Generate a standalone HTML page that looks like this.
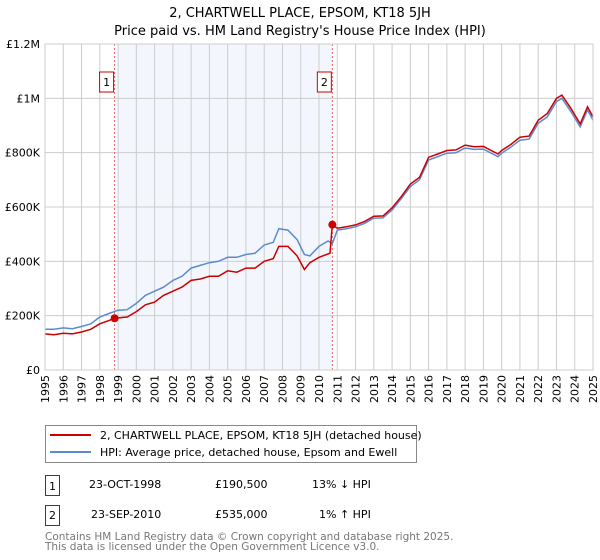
<!DOCTYPE html>
<html><head><meta charset="utf-8"><style>
body{margin:0;background:#fff;font-family:"DejaVu Sans","Liberation Sans",sans-serif;}
svg{display:block}
</style></head><body>
<svg width="600" height="560" viewBox="0 0 600 560" id="svg">
<text x="300" y="17" text-anchor="middle" font-size="13">2, CHARTWELL PLACE, EPSOM, KT18 5JH</text>
<text x="300" y="35" text-anchor="middle" font-size="13">Price paid vs. HM Land Registry's House Price Index (HPI)</text>
<g id="plot"></g>
<rect x="45.5" y="425.5" width="371" height="37" fill="#fff" stroke="#888"/>
<line x1="50" y1="435" x2="91" y2="435" stroke="#cc0000" stroke-width="2"/>
<text x="100" y="439" font-size="11">2, CHARTWELL PLACE, EPSOM, KT18 5JH (detached house)</text>
<line x1="50" y1="452" x2="91" y2="452" stroke="#5b8bcf" stroke-width="2"/>
<text x="100" y="456" font-size="11">HPI: Average price, detached house, Epsom and Ewell</text>
<g font-size="11">
<rect x="45.5" y="475.5" width="14" height="20" fill="none" stroke="#cc0000"/>
<text x="52.5" y="490" text-anchor="middle">1</text>
<text x="89" y="488">23-OCT-1998</text>
<text x="215" y="488">£190,500</text>
<text x="312" y="488">13% ↓ HPI</text>
<rect x="45.5" y="505.5" width="14" height="20" fill="none" stroke="#cc0000"/>
<text x="52.5" y="519" text-anchor="middle">2</text>
<text x="91" y="518">23-SEP-2010</text>
<text x="215" y="518">£535,000</text>
<text x="319" y="518">1% ↑ HPI</text>
</g>
<text x="45" y="540" font-size="10.5" fill="#777">Contains HM Land Registry data © Crown copyright and database right 2025.</text>
<text x="45" y="550" font-size="10.5" fill="#777">This data is licensed under the Open Government Licence v3.0.</text>
</svg>
<script>
const years=[1995,1996,1997,1998,1999,2000,2001,2002,2003,2004,2005,2006,2007,2008,2009,2010,2011,2012,2013,2014,2015,2016,2017,2018,2019,2020,2021,2022,2023,2024,2025];
const yTicks=[0,200,400,600,800,1000,1200];
const yTickLabels=["£0","£200K","£400K","£600K","£800K","£1M","£1.2M"];
const hpiT=[1995,1995.5,1996,1996.5,1997,1997.5,1998,1998.5,1999,1999.5,2000,2000.5,2001,2001.5,2002,2002.5,2003,2003.5,2004,2004.5,2005,2005.5,2006,2006.5,2007,2007.5,2007.8,2008.3,2008.8,2009.2,2009.5,2010,2010.5,2010.73,2011,2011.5,2012,2012.5,2013,2013.5,2014,2014.5,2015,2015.5,2016,2016.5,2017,2017.5,2018,2018.5,2019,2019.8,2020,2020.5,2021,2021.5,2022,2022.5,2023,2023.3,2023.8,2024.3,2024.7,2025];
const hpiV=[150,150,155,152,160,170,195,208,220,222,245,275,290,305,330,345,375,385,395,400,415,415,425,430,460,470,520,515,480,425,420,455,475,465,515,520,527,540,559,560,589,630,675,700,773,785,798,800,817,812,813,785,798,820,846,850,908,932,988,1000,950,895,957,920];
const priceT=[1995,1995.5,1996,1996.5,1997,1997.5,1998,1998.5,1998.81,1999.5,2000,2000.5,2001,2001.5,2002,2002.5,2003,2003.5,2004,2004.5,2005,2005.5,2006,2006.5,2007,2007.5,2007.8,2008.3,2008.8,2009.2,2009.5,2010,2010.6,2010.73,2011,2011.5,2012,2012.5,2013,2013.5,2014,2014.5,2015,2015.5,2016,2016.5,2017,2017.5,2018,2018.5,2019,2019.8,2020,2020.5,2021,2021.5,2022,2022.5,2023,2023.3,2023.8,2024.3,2024.7,2025];
const priceV=[133,130,135,133,140,150,170,182,190.5,195,215,240,250,275,290,305,330,335,345,345,365,360,375,375,400,410,455,455,420,370,395,415,430,535,522,527,534,547,566,567,597,638,684,709,783,795,808,810,828,822,823,795,808,830,857,861,919,944,1000,1012,962,906,969,932];
const saleT=[1998.81,2010.73];
const saleV=[190.5,535];
const X0=45,X1=593,Y0=370,Y1=44;
const xs=t=>X0+(t-1995)/30*(X1-X0);
const ys=v=>Y0-v/1200*(Y0-Y1);
const NS="http://www.w3.org/2000/svg";
const g=document.getElementById('plot');
function mk(tag,attrs){const e=document.createElementNS(NS,tag);for(const k in attrs)e.setAttribute(k,attrs[k]);g.appendChild(e);return e;}
let r=mk('rect',{x:xs(saleT[0])+3,y:Y1,width:xs(saleT[1])-xs(saleT[0])-3,height:Y0-Y1,fill:'#eef3fc',opacity:0.7});


years.forEach(y=>{const l=mk('line',{x1:xs(y),x2:xs(y),y1:Y1,y2:Y0,stroke:'#ccc'});


const t=mk('text',{x:0,y:0,'font-size':11,'text-anchor':'end',transform:`translate(${xs(y)+4},${Y0+5}) rotate(-90)`});t.textContent=y;

});
yTicks.forEach((v,i)=>{const l=mk('line',{x1:X0,x2:X1,y1:ys(v),y2:ys(v),stroke:'#ccc'});


const t=mk('text',{x:X0-5,y:ys(v)+4,'font-size':11,'text-anchor':'end'});t.textContent=yTickLabels[i];

});
saleT.forEach((s,i)=>{const l=mk('line',{x1:xs(s),x2:xs(s),y1:Y1,y2:Y0,stroke:'#f06060','stroke-dasharray':'2,2'});


const b=mk('rect',{x:xs(s)-15,y:72,width:14,height:20,fill:'#fff',stroke:'#cc0000'});


const t=mk('text',{x:xs(s)-8,y:86,'font-size':11,'text-anchor':'middle'});t.textContent=i+1;

});
function path(T,V,c,name){const d=T.map((t,i)=>(i?'L':'M')+xs(t).toFixed(1)+','+ys(V[i]).toFixed(1)).join('');
const p=mk('path',{d:d,fill:'none',stroke:c,'stroke-width':1.5});

}
path(hpiT,hpiV,'#5b8bcf','hpi-line');
path(priceT,priceV,'#cc0000','price-line');
saleT.forEach((s,i)=>{const c=mk('circle',{cx:xs(s),cy:ys(saleV[i]),r:4,fill:'#cc0000'});

});
const ax=mk('rect',{x:X0,y:Y1,width:X1-X0,height:Y0-Y1,fill:'none',stroke:'#ccc'});


</script>
</body></html>
